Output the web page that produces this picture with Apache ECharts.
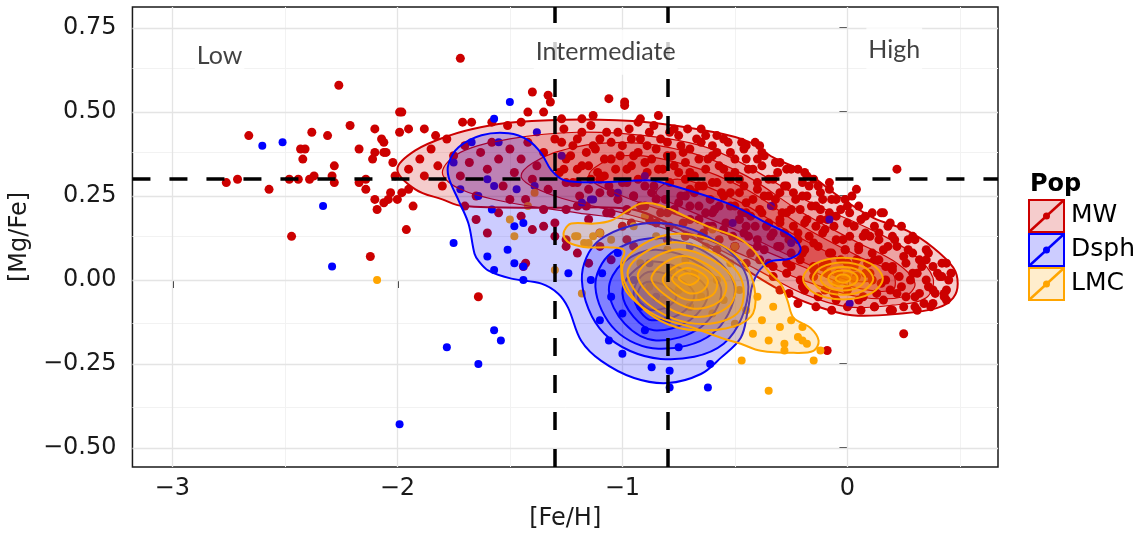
<!DOCTYPE html>
<html>
<head>
<meta charset="utf-8">
<script src="https://cdn.jsdelivr.net/npm/echarts@6/dist/echarts.min.js"></script>
<style>
  html, body { margin: 0; padding: 0; background: #fff; }
  #main { width: 1141px; height: 537px; }
</style>
</head>
<body>
<div id="main"></div>
<script>
// ---- data ----
var popNames = ['MW', 'Dsph', 'LMC'];
var popColors = ['#CC0000', '#0000FF', '#FFA500'];
var popFills = ['rgba(204,0,0,0.2)', 'rgba(0,0,255,0.2)', 'rgba(255,165,0,0.2)'];
var popDotSize = [9, 8, 8];

var xTicks = [-3, -2, -1, 0];
var xMinor = [-2.5, -1.5, -0.5, 0.5];
var yTicks = [-0.5, -0.25, 0, 0.25, 0.5, 0.75];
var yMinor = [-0.375, -0.125, 0.125, 0.375, 0.625];
var feCuts = [-1.3, -0.8];
var mgCut = 0.3;

var zoneNames = ['Low', 'Intermediate', 'High'];
var zoneX = [-2.79, -1.074, 0.208];
var zoneY = [0.667, 0.678, 0.685];

var mwPoints = [
  [-2.26,0.58],[-2.66,0.43],[-1.99,0.50],[-2.21,0.46],[-2.10,0.45],[-2.38,0.44],[-2.31,0.43],[-1.99,0.44],
  [-2.17,0.39],[-2.06,0.41],[-2.10,0.38],[-2.06,0.38],[-2.43,0.39],[-2.41,0.39],[-2.42,0.36],[-2.28,0.34],
  [-2.11,0.36],[-2.02,0.35],[-2.37,0.31],[-2.29,0.31],[-2.76,0.29],[-2.71,0.30],[-2.48,0.30],[-2.44,0.30],
  [-2.39,0.30],[-2.28,0.29],[-2.17,0.29],[-2.14,0.30],[-2.57,0.27],[-2.14,0.27],[-2.10,0.24],[-2.06,0.23],
  [-2.09,0.21],[-2.03,0.26],[-2.00,0.24],[-2.47,0.13],[-2.12,0.07],
  [-1.72,0.66],[-1.40,0.56],[-1.33,0.55],[-1.32,0.53],[-1.06,0.54],[-0.99,0.53],[-0.99,0.52],[-1.98,0.50],
  [-1.42,0.50],[-1.35,0.50],[-1.13,0.49],[-1.27,0.48],[-1.18,0.48],[-0.92,0.48],[-0.84,0.49],[-0.47,0.41],
  [-0.39,0.40],[-2.07,0.42],[-2.05,0.38],[-1.88,0.45],[-1.95,0.45],[-1.83,0.43],[-1.71,0.47],[-1.67,0.47],
  [-1.58,0.47],[-1.51,0.46],[-1.45,0.47],[-0.93,0.47],[-0.77,0.45],[-0.65,0.45],[-0.58,0.43],
  [-2.04,0.24],[-1.98,0.26],[-1.93,0.22],[-1.96,0.15],[-2.01,0.31],[-1.95,0.27],
  [-1.95,0.33],[-1.90,0.36],[-1.88,0.31],[-1.85,0.39],[-1.82,0.34],[-1.80,0.28],[-1.78,0.42],[-1.75,0.37],
  [-1.72,0.31],[-1.70,0.40],[-1.68,0.35],[-1.65,0.25],[-1.63,0.38],[-1.60,0.33],[-1.58,0.41],[-1.55,0.36],
  [-1.53,0.28],[-1.50,0.39],[-1.48,0.32],[-1.45,0.36],[-1.43,0.24],[-1.42,0.41],[-1.40,0.30],[-1.38,0.34],
  [-1.35,0.38],[-1.33,0.27],[-1.30,0.42],[-1.28,0.32],[-1.25,0.36],[-1.22,0.40],[-1.20,0.29],[-1.18,0.44],
  [-1.15,0.34],[-1.12,0.39],[-1.10,0.42],[-1.08,0.31],[-1.05,0.36],[-1.02,0.44],[-1.00,0.40],[-0.98,0.33],
  [-0.95,0.37],[-0.92,0.42],[-0.90,0.35],[-0.88,0.44],[-0.85,0.39],[-0.82,0.33],[-0.80,0.41],[-0.78,0.37],
  [-0.75,0.43],[-0.72,0.35],[-0.70,0.39],[-0.68,0.31],[-0.65,0.41],[-0.62,0.36],[-0.60,0.29],[-0.58,0.38],
  [-0.55,0.33],[-0.52,0.26],[-0.50,0.36],[-0.48,0.30],[-0.45,0.23],[-0.42,0.33],[-0.40,0.27],[-0.38,0.20],
  [-0.35,0.30],[-0.32,0.24],[-0.30,0.17],[-0.28,0.28],[-0.25,0.21],[-0.22,0.14],[-0.20,0.25],[-0.18,0.18],
  [-0.15,0.11],[-0.12,0.21],[-0.10,0.15],[-0.08,0.08],[-0.05,0.19],[-0.02,0.12],[0.00,0.05],[0.03,0.16],
  [0.05,0.09],[0.08,0.02],[0.10,0.13],[0.12,0.06],[0.15,-0.01],[0.18,0.10],[0.20,0.03],[0.22,-0.04],
  [0.25,0.07],[0.28,0.00],[0.30,-0.05],[0.33,0.04],[0.36,-0.02],[0.40,0.02],[0.43,-0.04],
  [-1.70,0.22],[-1.65,0.18],[-1.60,0.14],[-1.55,0.20],[-1.50,0.24],[-1.45,0.19],[-1.40,0.15],[-1.35,0.21],
  [-1.30,0.17],[-1.25,0.12],[-1.20,0.22],[-1.15,0.18],[-1.10,0.14],[-1.05,0.20],[-1.00,0.16],[-0.95,0.10],
  [-0.90,0.22],[-0.85,0.17],[-0.80,0.12],[-0.75,0.23],[-0.70,0.18],[-0.65,0.13],[-0.60,0.20],[-0.55,0.15],
  [-0.50,0.10],[-0.45,0.16],[-0.40,0.10],[-0.35,0.05],[-0.30,0.10],[-0.25,0.04],[-0.20,-0.02],[-0.15,0.03],
  [-0.10,-0.03],[-0.05,-0.06],[0.05,-0.06],[0.12,-0.08],[0.20,-0.09],[0.30,-0.08],[0.38,-0.07],[-0.30,-0.03],
  [-0.22,-0.07],
  [-0.75,0.32],[-0.70,0.27],[-0.66,0.22],[-0.62,0.16],[-0.57,0.22],[-0.53,0.31],[-0.47,0.20],[-0.44,0.13],
  [-0.40,0.36],[-0.37,0.25],[-0.33,0.14],[-0.27,0.33],[-0.24,0.26],[-0.20,0.08],[-0.17,0.28],[-0.14,0.16],
  [-0.11,0.04],[-0.07,0.24],[-0.04,0.02],[0.01,0.20],[0.04,0.06],[0.07,0.13],[0.11,0.00],[0.14,0.14],
  [0.17,0.04],[0.21,0.12],[0.24,-0.02],[0.27,0.09],[0.31,0.02],[0.35,0.06],[0.39,-0.04],[0.42,0.01],
  [0.44,-0.06],[0.34,-0.07],[0.16,-0.06],[-0.90,0.28],[-0.95,0.25],[-1.00,0.29],[-1.05,0.26],[-1.10,0.30],
  [-1.15,0.27],[-1.20,0.33],[-1.25,0.29],[-0.85,0.24],[-0.80,0.20],[-0.72,0.25],[-0.64,0.28],[-0.56,0.26],
  [-0.50,0.22],[-0.43,0.19],[-0.36,0.16],[-0.29,0.20],[-0.26,0.12],[-0.16,0.22],[-0.09,0.18],[-0.01,0.09],
  [-0.45,0.40],[-0.38,0.38],[-0.30,0.35],[-0.22,0.33],[-0.15,0.30],[-0.08,0.27],[0.00,0.22],[0.08,0.19],
  [0.18,0.16],[0.30,0.12],[0.36,0.08],[0.42,0.05],[0.45,0.00],[0.44,-0.03],
  [-1.64,-0.05],[-1.43,0.05],[-1.15,0.05],[-1.35,0.16],[-1.30,0.13],[-1.44,0.04],[-1.25,0.10],[-1.20,0.08],
  [-1.10,0.10],[-1.05,0.06],[-0.98,0.12],[-0.09,-0.21],[0.25,-0.16],[0.22,0.33],[0.04,0.27],[0.15,0.20],
  [0.16,0.20],[-0.01,0.24],[-0.11,0.24],[0.24,0.16],[-0.18,0.31],[0.29,0.13],
  // dense core of the MW sequence
  [-1.26,0.45],[-1.14,0.46],[-1.07,0.44],[-0.97,0.45],[-0.86,0.46],[-0.79,0.44],[-0.71,0.45],[-0.63,0.43],[-0.55,0.42],
  [-1.27,0.41],[-1.20,0.42],[-1.13,0.40],[-1.05,0.41],[-0.96,0.42],[-0.89,0.40],[-0.83,0.42],[-0.74,0.40],[-0.67,0.42],
  [-0.60,0.40],[-0.53,0.41],[-0.46,0.39],[-0.41,0.41],
  [-1.23,0.37],[-1.16,0.38],[-1.08,0.36],[-1.01,0.37],[-0.93,0.38],[-0.87,0.36],[-0.80,0.37],[-0.73,0.38],[-0.66,0.36],
  [-0.60,0.37],[-0.52,0.38],[-0.45,0.36],[-0.37,0.37],[-0.32,0.35],
  [-1.26,0.33],[-1.18,0.34],[-1.11,0.32],[-1.03,0.33],[-0.96,0.34],[-0.89,0.32],[-0.84,0.33],[-0.77,0.34],[-0.70,0.32],
  [-0.63,0.33],[-0.57,0.34],[-0.50,0.32],[-0.44,0.33],[-0.38,0.34],[-0.31,0.32],[-0.25,0.33],[-0.19,0.32],
  [-1.22,0.29],[-1.14,0.30],[-1.06,0.28],[-0.98,0.29],[-0.93,0.30],[-0.86,0.28],[-0.79,0.29],[-0.72,0.30],[-0.66,0.28],
  [-0.58,0.29],[-0.52,0.30],[-0.46,0.28],[-0.40,0.29],[-0.33,0.30],[-0.27,0.28],[-0.20,0.29],[-0.13,0.28],[-0.08,0.29],
  [-1.19,0.25],[-1.10,0.26],[-1.02,0.24],[-0.95,0.25],[-0.87,0.26],[-0.81,0.24],[-0.74,0.25],[-0.68,0.26],[-0.61,0.24],
  [-0.55,0.25],[-0.48,0.26],[-0.42,0.24],[-0.35,0.25],[-0.30,0.26],[-0.23,0.24],[-0.18,0.25],[-0.12,0.26],[-0.05,0.24],
  [0.02,0.25],
  [-1.25,0.21],[-1.16,0.22],[-1.07,0.20],[-0.98,0.21],[-0.92,0.22],[-0.83,0.20],[-0.77,0.21],[-0.70,0.22],[-0.63,0.20],
  [-0.59,0.21],[-0.52,0.22],[-0.45,0.20],[-0.39,0.21],[-0.33,0.22],[-0.27,0.20],[-0.21,0.21],[-0.14,0.22],[-0.08,0.20],
  [-0.03,0.21],[0.05,0.22],[0.11,0.20],
  [-0.96,0.17],[-0.88,0.18],[-0.79,0.16],[-0.73,0.17],[-0.66,0.18],[-0.60,0.16],[-0.54,0.17],[-0.48,0.18],[-0.41,0.16],
  [-0.35,0.17],[-0.30,0.18],[-0.24,0.16],[-0.19,0.17],[-0.12,0.18],[-0.06,0.16],[0.00,0.17],[0.06,0.18],[0.12,0.16],
  [0.19,0.17],
  [-0.72,0.13],[-0.64,0.14],[-0.57,0.12],[-0.51,0.13],[-0.46,0.14],[-0.40,0.12],[-0.34,0.13],[-0.28,0.14],[-0.22,0.12],
  [-0.17,0.13],[-0.11,0.14],[-0.05,0.12],[0.01,0.13],[0.08,0.14],[0.14,0.12],[0.20,0.13],[0.27,0.12],
  [-0.58,0.09],[-0.50,0.10],[-0.43,0.08],[-0.37,0.09],[-0.31,0.10],[-0.25,0.08],[-0.19,0.09],[-0.13,0.10],[-0.07,0.08],
  [-0.01,0.09],[0.05,0.10],[0.11,0.08],[0.16,0.09],[0.22,0.10],[0.29,0.08],[0.35,0.09],
  [-0.45,0.05],[-0.39,0.06],[-0.33,0.04],[-0.27,0.05],[-0.21,0.06],[-0.15,0.04],[-0.09,0.05],[-0.03,0.06],[0.03,0.04],
  [0.09,0.05],[0.14,0.06],[0.20,0.04],[0.26,0.05],[0.32,0.06],[0.38,0.04],[0.44,0.05],
  [-0.33,0.01],[-0.27,0.02],[-0.21,0.00],[-0.15,0.01],[-0.09,0.02],[-0.03,0.00],[0.04,0.01],[0.10,0.02],[0.17,0.00],
  [0.23,0.01],[0.29,0.02],[0.35,0.00],[0.41,0.01],[0.46,0.02],
  [-0.26,-0.04],[-0.19,-0.03],[-0.13,-0.05],[-0.06,-0.04],[0.00,-0.03],[0.07,-0.05],[0.13,-0.04],[0.19,-0.03],[0.26,-0.05],
  [0.32,-0.04],[0.38,-0.03],[0.43,-0.05],
  [-0.14,-0.08],[-0.07,-0.09],[0.00,-0.08],[0.06,-0.09],[0.12,-0.08],[0.19,-0.09],[0.25,-0.08],[0.31,-0.09],[0.37,-0.08]
];

var dsphPoints = [
  [-2.60,0.40],[-2.51,0.41],[-2.33,0.22],[-2.29,0.04],[-1.99,-0.43],[-1.50,0.53],[-1.57,0.48],[-1.38,0.44],
  [-1.55,0.41],[-1.67,0.41],[-1.27,0.37],[-1.75,0.35],[-1.60,0.30],[-1.72,0.27],[-1.64,0.25],[-1.47,0.27],
  [-1.57,0.28],[-1.39,0.28],[-1.18,0.23],[-1.13,0.24],[-1.02,0.26],[-1.58,0.21],[-1.48,0.16],[-1.44,0.17],
  [-1.75,0.11],[-1.60,0.07],[-1.51,0.09],[-1.48,0.05],[-1.44,0.04],[-1.57,0.03],[-1.24,0.02],[-1.44,0.00],
  [-0.90,0.31],[-1.78,-0.20],[-1.64,-0.25],[-1.57,-0.15],[-1.54,-0.18],[-0.87,-0.26],[-0.79,-0.27],
  [-0.61,-0.25],[-0.79,-0.32],[-0.62,-0.32],[-1.06,-0.18],[-1.14,0.00],[-1.09,0.02],[-0.34,0.22],
  [-0.08,0.18],[-0.25,0.11],[0.01,-0.07],[-1.14,0.24],[-0.51,0.17],
  [-1.00,-0.10],[-0.90,-0.15],[-0.95,0.00],[-1.05,-0.05],[-0.85,-0.05],[-0.80,-0.12],[-1.10,-0.12],
  [-0.75,-0.20],[-1.00,-0.22],[-0.70,-0.08],[-0.92,-0.08],[-0.88,0.05],[-1.02,0.08],[-0.70,0.10]
];

var lmcPoints = [
  [-1.20,0.13],[-1.15,0.11],[-1.10,0.14],[-1.05,0.12],[-0.95,0.16],[-0.90,0.19],[-0.85,0.13],[-0.80,0.09],
  [-0.78,0.03],[-0.75,-0.03],[-0.72,0.06],[-0.70,-0.08],[-0.68,0.02],[-0.65,-0.05],[-0.63,0.10],[-0.60,-0.10],
  [-0.58,0.00],[-0.55,-0.06],[-0.52,0.05],[-0.50,-0.13],[-0.48,-0.03],[-0.45,-0.09],[-0.42,-0.16],[-0.40,-0.05],
  [-0.38,-0.12],[-0.35,-0.18],[-0.33,-0.08],[-0.30,-0.14],[-0.28,-0.19],[-0.25,-0.12],[-0.22,-0.17],[-0.20,-0.14],
  [-0.18,-0.19],[-0.82,-0.06],[-0.88,-0.02],[-0.92,0.05],[-0.60,0.15],[-0.50,0.10],[-0.02,0.00],[0.00,0.01],
  [-0.05,-0.01],[0.03,0.00],
  [-0.47,-0.24],[-0.15,-0.24],[-0.12,-0.21],[-0.35,-0.33],[-0.20,-0.18],[-0.28,-0.21],[-2.09,0.00],[-1.39,0.26],
  [-1.42,0.22],[-1.50,0.18],[-1.48,0.13],[-1.30,0.03],[-1.18,-0.04],[-1.21,0.13],[-1.17,0.11],[-1.13,0.13]
];

// density contour outlines, outermost level first
var mwLevels = [
  [[-2.00,0.33],[-1.92,0.386],[-1.77,0.43],[-1.63,0.455],[-1.48,0.47],[-1.18,0.478],[-0.89,0.47],[-0.59,0.44],
   [-0.44,0.412],[-0.33,0.365],[-0.18,0.318],[-0.03,0.245],[0.115,0.185],[0.265,0.147],[0.38,0.097],[0.47,0.037],
   [0.49,-0.011],[0.47,-0.053],[0.40,-0.083],[0.24,-0.10],[0.02,-0.105],[-0.15,-0.075],[-0.30,-0.03],[-0.45,0.03],
   [-0.62,0.10],[-0.80,0.17],[-0.97,0.212],[-1.30,0.215],[-1.71,0.22],[-1.80,0.24],[-1.92,0.27]],
  [[-1.80,0.32],[-1.72,0.38],[-1.50,0.42],[-1.20,0.44],[-0.90,0.43],[-0.65,0.40],[-0.47,0.348],[-0.18,0.236],
   [0.115,0.147],[0.29,0.078],[0.38,0.007],[0.35,-0.053],[0.20,-0.075],[0.00,-0.08],[-0.20,-0.04],[-0.40,0.03],
   [-0.60,0.10],[-0.90,0.17],[-1.20,0.20],[-1.50,0.23],[-1.72,0.27]],
  [[-1.30,0.38],[-1.00,0.41],[-0.70,0.38],[-0.45,0.31],[-0.20,0.20],[0.05,0.11],[0.22,0.05],[0.30,-0.01],
   [0.25,-0.05],[0.05,-0.05],[-0.20,0.00],[-0.45,0.07],[-0.70,0.14],[-1.00,0.20],[-1.30,0.25],[-1.45,0.31]],
  [[-1.00,0.37],[-0.70,0.34],[-0.45,0.27],[-0.20,0.16],[0.05,0.07],[0.20,0.02],[0.20,-0.03],[0.02,-0.02],
   [-0.20,0.04],[-0.45,0.11],[-0.70,0.18],[-1.00,0.25],[-1.15,0.31]],
  [[-0.75,0.30],[-0.50,0.24],[-0.25,0.14],[0.00,0.05],[0.10,0.00],[0.00,0.00],[-0.25,0.07],[-0.50,0.15],
   [-0.75,0.22],[-0.85,0.26]]
];

var dsphLevels = [
  [[-1.772,0.347],[-1.728,0.395],[-1.626,0.431],[-1.506,0.437],[-1.418,0.416],[-1.360,0.377],[-1.316,0.327],
   [-1.258,0.297],[-1.108,0.291],[-0.886,0.297],[-0.829,0.291],[-0.532,0.228],[-0.354,0.168],[-0.239,0.126],
   [-0.208,0.088],[-0.253,0.064],[-0.354,0.052],[-0.416,-0.002],[-0.443,-0.092],[-0.474,-0.172],[-0.563,-0.232],
   [-0.651,-0.280],[-0.798,-0.307],[-0.948,-0.292],[-1.094,-0.241],[-1.183,-0.181],[-1.241,-0.083],[-1.285,-0.041],
   [-1.360,-0.011],[-1.493,0.004],[-1.595,0.028],[-1.639,0.057],[-1.657,0.078],[-1.684,0.168],[-1.728,0.237],
   [-1.772,0.306]],
  [[-0.44,-0.02],[-0.55,0.10],[-0.83,0.17],[-1.10,0.12],[-1.18,0.00],[-1.08,-0.16],[-0.83,-0.235],[-0.55,-0.19]],
  [[-0.50,-0.03],[-0.60,0.07],[-0.84,0.125],[-1.05,0.08],[-1.12,-0.02],[-1.03,-0.15],[-0.84,-0.205],[-0.60,-0.16]],
  [[-0.56,-0.035],[-0.65,0.045],[-0.85,0.09],[-1.00,0.05],[-1.06,-0.03],[-0.99,-0.13],[-0.85,-0.18],[-0.65,-0.14]],
  [[-0.62,-0.04],[-0.70,0.02],[-0.86,0.055],[-0.96,0.02],[-1.00,-0.04],[-0.95,-0.11],[-0.86,-0.15],[-0.70,-0.12]],
  [[-0.68,-0.045],[-0.74,0.00],[-0.87,0.025],[-0.93,0.00],[-0.95,-0.05],[-0.92,-0.095],[-0.87,-0.12],[-0.74,-0.10]],
  [[-0.76,-0.05],[-0.80,-0.02],[-0.88,-0.005],[-0.92,-0.02],[-0.93,-0.055],[-0.90,-0.08],[-0.87,-0.09],[-0.80,-0.08]]
];

var lmcLevels = [
  [[-1.258,0.147],[-1.227,0.168],[-1.125,0.168],[-1.050,0.177],[-0.975,0.207],[-0.917,0.228],[-0.829,0.222],
   [-0.709,0.186],[-0.607,0.156],[-0.487,0.126],[-0.416,0.088],[-0.354,0.028],[-0.297,-0.011],[-0.266,-0.062],
   [-0.239,-0.113],[-0.164,-0.143],[-0.128,-0.181],[-0.151,-0.211],[-0.239,-0.217],[-0.385,-0.211],[-0.474,-0.190],
   [-0.563,-0.172],[-0.682,-0.143],[-0.829,-0.113],[-0.930,-0.071],[-0.992,-0.023],[-1.006,0.049],[-0.992,0.088],
   [-1.050,0.097],[-1.152,0.097],[-1.227,0.108],[-1.258,0.126]],
  [[-1.00,0.04],[-0.83,0.13],[-0.61,0.12],[-0.44,0.03],[-0.43,-0.11],[-0.68,-0.15],[-0.90,-0.09]],
  [[-0.975,0.03],[-0.80,0.11],[-0.59,0.08],[-0.47,0.00],[-0.49,-0.10],[-0.68,-0.13],[-0.89,-0.07]],
  [[-0.93,0.02],[-0.77,0.09],[-0.60,0.06],[-0.50,-0.01],[-0.53,-0.08],[-0.68,-0.11],[-0.85,-0.06]],
  [[-0.87,0.01],[-0.75,0.07],[-0.62,0.045],[-0.54,-0.01],[-0.57,-0.065],[-0.69,-0.085],[-0.81,-0.045]],
  [[-0.82,0.005],[-0.73,0.05],[-0.64,0.035],[-0.58,-0.005],[-0.60,-0.045],[-0.70,-0.06],[-0.78,-0.035]],
  [[-0.78,0.005],[-0.72,0.035],[-0.66,0.025],[-0.62,0.00],[-0.64,-0.03],[-0.70,-0.04],[-0.75,-0.02]],
  [[-0.75,0.005],[-0.71,0.02],[-0.66,0.005],[-0.70,-0.015]],
  // small cluster near solar metallicity
  [[0.157,0.004],[0.105,0.048],[-0.02,0.066],[-0.145,0.048],[-0.197,0.004],[-0.145,-0.04],[-0.02,-0.058],[0.105,-0.04]],
  [[0.115,0.004],[0.075,0.038],[-0.02,0.052],[-0.115,0.038],[-0.155,0.004],[-0.115,-0.03],[-0.02,-0.044],[0.075,-0.03]],
  [[0.08,0.004],[0.05,0.029],[-0.02,0.039],[-0.09,0.029],[-0.12,0.004],[-0.09,-0.021],[-0.02,-0.031],[0.05,-0.021]],
  [[0.045,0.004],[0.026,0.021],[-0.02,0.028],[-0.066,0.021],[-0.085,0.004],[-0.066,-0.013],[-0.02,-0.02],[0.026,-0.013]],
  [[0.013,0.004],[0.003,0.012],[-0.02,0.016],[-0.043,0.012],[-0.053,0.004],[-0.043,-0.004],[-0.02,-0.008],[0.003,-0.004]]
];

// ---- chart ----
var chart = echarts.init(document.getElementById('main'));
var FONT = 'DejaVu Sans';

function minusFmt(v, d) {
  var s = Math.abs(v).toFixed(d);
  return v < 0 ? '\u2212' + s : s;
}

function contourSeries(levels, k, z, innerWidth) {
  return {
    type: 'custom',
    name: popNames[k] + ' density',
    z: z,
    silent: true,
    clip: true,
    data: levels.map(function (lv, i) { return [lv[0][0], lv[0][1], i]; }),
    encode: { x: 0, y: 1 },
    renderItem: function (params, api) {
      var ring = levels[params.dataIndex];
      return {
        type: 'polygon',
        shape: { points: ring.map(function (p) { return api.coord(p); }), smooth: 0.35 },
        style: { fill: popFills[k], stroke: popColors[k], lineWidth: params.dataIndex === 0 ? 2 : innerWidth }
      };
    }
  };
}

function pointSeries(pts, k) {
  return {
    type: 'scatter', name: popNames[k], z: 2, silent: true,
    symbolSize: popDotSize[k], data: pts,
    itemStyle: { color: popColors[k], opacity: 1 }
  };
}

var gridMarks = [];
xMinor.forEach(function (v) { gridMarks.push({ xAxis: v, lineStyle: { color: '#f2f2f2', width: 1 } }); });
yMinor.forEach(function (v) { gridMarks.push({ yAxis: v, lineStyle: { color: '#f2f2f2', width: 1 } }); });
xTicks.forEach(function (v) { gridMarks.push({ xAxis: v, lineStyle: { color: '#e4e4e4', width: 1.3 } }); });
yTicks.forEach(function (v) { gridMarks.push({ yAxis: v, lineStyle: { color: '#e4e4e4', width: 1.3 } }); });

var cutMarks = feCuts.map(function (v) { return { xAxis: v }; });
cutMarks.push({ yAxis: mgCut });

// legend drawn as boxes like ggplot's key
var legendEls = [{
  type: 'text', left: 1030, top: 173,
  style: { text: 'Pop', font: 'bold 24px "DejaVu Sans"', fill: '#000' }
}];
popNames.forEach(function (n, i) {
  var y0 = 200 + i * 34;
  legendEls.push({ type: 'rect', shape: { x: 1029, y: y0, width: 35, height: 32 },
    style: { fill: popFills[i], stroke: popColors[i], lineWidth: 2 } });
  legendEls.push({ type: 'line', shape: { x1: 1029, y1: y0 + 32, x2: 1064, y2: y0 },
    style: { stroke: popColors[i], lineWidth: 2.5 } });
  legendEls.push({ type: 'circle', shape: { cx: 1046.5, cy: y0 + 16, r: 3.5 },
    style: { fill: popColors[i] } });
  legendEls.push({ type: 'text', left: 1071, top: y0 + 3,
    style: { text: n, font: '25px "DejaVu Sans"', fill: '#000' } });
});

var option = {
  animation: false,
  backgroundColor: '#fff',
  grid: { left: 130, top: 7, width: 868, height: 460, show: true, borderColor: '#1a1a1a', borderWidth: 1.5, backgroundColor: 'transparent' },
  xAxis: {
    type: 'value', min: -3.177, max: 0.669,
    name: '[Fe/H]', nameLocation: 'middle', nameGap: 40,
    nameTextStyle: { fontFamily: FONT, fontSize: 24, color: '#1a1a1a' },
    axisLine: { show: false },
    axisTick: { show: true, length: 8, customValues: xTicks, lineStyle: { color: '#333', width: 2 } },
    axisLabel: { customValues: xTicks, margin: 10, fontFamily: FONT, fontSize: 24, color: '#1a1a1a',
      formatter: function (v) { return minusFmt(v, 0); } },
    splitLine: { show: false }
  },
  yAxis: {
    type: 'value', min: -0.557, max: 0.813,
    name: '[Mg/Fe]', nameLocation: 'middle', nameGap: 86, nameRotate: 90,
    nameTextStyle: { fontFamily: FONT, fontSize: 24, color: '#1a1a1a' },
    axisLine: { show: false },
    axisTick: { show: true, length: 8, customValues: yTicks, lineStyle: { color: '#333', width: 2 } },
    axisLabel: { customValues: yTicks, margin: 16, fontFamily: FONT, fontSize: 24, color: '#1a1a1a',
      formatter: function (v) { return minusFmt(v, 2); } },
    splitLine: { show: false }
  },
  graphic: legendEls,
  series: [
    {
      type: 'scatter', name: 'grid', z: 1, silent: true, data: [],
      markLine: { silent: true, z: 1, symbol: 'none', label: { show: false }, data: gridMarks, animation: false,
        lineStyle: { type: 'solid' } }
    },
    pointSeries(mwPoints, 0),
    pointSeries(dsphPoints, 1),
    pointSeries(lmcPoints, 2),
    contourSeries(mwLevels, 0, 3, 1.2),
    contourSeries(dsphLevels, 1, 4, 2),
    contourSeries(lmcLevels, 2, 5, 2),
    {
      type: 'scatter', name: 'cuts', z: 10, silent: true, data: [],
      markLine: { silent: true, z: 10, symbol: 'none', label: { show: false }, animation: false,
        lineStyle: { color: '#000', width: 3.5, type: [18, 19] }, data: cutMarks }
    },
    {
      type: 'scatter', name: 'zones', z: 11, silent: true, symbolSize: 0,
      data: zoneNames.map(function (n, i) { return { name: n, value: [zoneX[i], zoneY[i]] }; }),
      label: { show: true, position: 'inside', formatter: '{b}', fontFamily: 'Lato', fontSize: 25, color: '#111',
        backgroundColor: '#fff', padding: [10, 2] }
    }
  ]
};

chart.setOption(option);
</script>
</body>
</html>
